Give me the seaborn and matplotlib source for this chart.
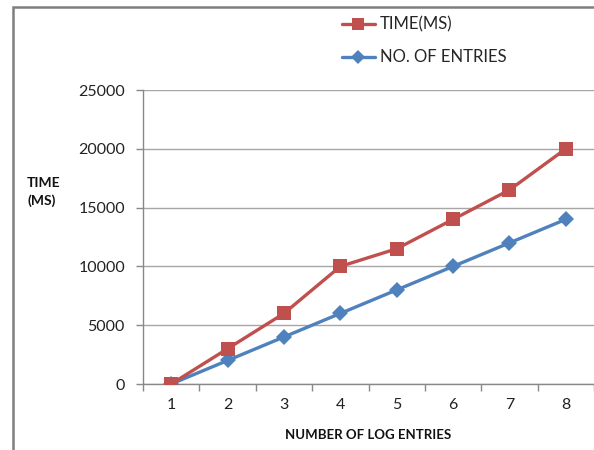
import matplotlib
matplotlib.use("Agg")
import matplotlib.pyplot as plt
from matplotlib.patches import Rectangle
import seaborn as sns
import pandas as pd

categories = [1, 2, 3, 4, 5, 6, 7, 8]
time_ms = [0, 3000, 6000, 10000, 11500, 14000, 16500, 20000]
num_entries = [0, 2000, 4000, 6000, 8000, 10000, 12000, 14000]
series_names = ["TIME(MS)", "NO. OF ENTRIES"]
y_ticks = [0, 5000, 10000, 15000, 20000, 25000]

df = pd.DataFrame({
    "entries": categories * 2,
    "value": time_ms + num_entries,
    "series": [series_names[0]] * len(categories) + [series_names[1]] * len(categories),
})

sns.set_theme(style="white")
plt.rcParams["font.family"] = ["Lato", "DejaVu Sans"]

red = "#C0504D"
blue = "#4F81BD"
grid_c = "#A6A6A6"

fig = plt.figure(figsize=(5.94, 4.5), dpi=100)
ax = fig.add_axes([143 / 594, 1 - 384 / 450, 1 - 143 / 594, (384 - 90) / 450])

sns.lineplot(
    data=df, x="entries", y="value", hue="series", style="series",
    hue_order=series_names, style_order=series_names,
    palette={series_names[0]: red, series_names[1]: blue},
    markers={series_names[0]: "s", series_names[1]: "D"},
    dashes=False, linewidth=2.4, markersize=10.5, markeredgewidth=0,
    ax=ax, legend=True,
)
lines = [l for l in ax.get_lines() if len(l.get_xdata()) == len(categories)]
if len(lines) >= 2:
    lines[1].set_markersize(8)
    lines[0].set_zorder(5)
    lines[1].set_zorder(4)

ax.set_xlim(0.5, 8.5)
ax.set_ylim(0, 25000)
ax.set_yticks(y_ticks)
ax.set_yticklabels([str(v) for v in y_ticks], fontsize=11.5, color="#222222")
ax.set_xticks(categories)
ax.set_xticklabels([str(c) for c in categories], fontsize=11.5, color="#222222")
ax.set_xticks([c + 0.5 for c in [0] + categories], minor=True)
ax.tick_params(axis="x", which="major", length=0, pad=10)
ax.tick_params(axis="x", which="minor", length=5, width=1, color="#888888", direction="out", bottom=True)
ax.tick_params(axis="y", length=5, width=1, color="#888888", direction="out", left=True, pad=8)
ax.yaxis.grid(True, color=grid_c, linewidth=1)
ax.set_axisbelow(True)
for s in ["top", "right", "bottom"]:
    ax.spines[s].set_visible(False)
ax.spines["left"].set_color("#888888")
ax.spines["left"].set_linewidth(1)
ax.axhline(0, color="#888888", linewidth=1, zorder=1, clip_on=False)

ax.set_xlabel("NUMBER OF LOG ENTRIES", fontsize=9.5, fontweight="bold", labelpad=12, color="#111111")
ax.set_ylabel("")
fig.text(27 / 594, 1 - 192 / 450, "TIME\n(MS)", fontsize=10, fontweight="bold",
         ha="left", va="center", linespacing=1.5, color="#111111")

handles, labels = ax.get_legend_handles_labels()
ax.get_legend().remove()
for h in handles:
    h.set_markersize(8 if h.get_marker() == "s" else 7)
fig.legend(handles, labels, loc="upper left", bbox_to_anchor=(335 / 594, 1 - 10 / 450),
           frameon=False, fontsize=12, handlelength=2.0, handletextpad=0.3,
           labelspacing=1.0, borderaxespad=0)

# outer chart border
fig.patches.append(Rectangle((13 / 594, -0.1), 1.2, (450 - 7) / 450 + 0.1,
                             transform=fig.transFigure, fill=False,
                             edgecolor="#7F7F7F", linewidth=1.8, zorder=0))

fig.savefig("out.png", dpi=100)
